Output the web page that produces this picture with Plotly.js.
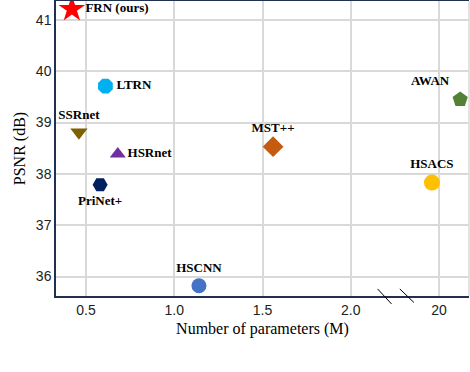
<!DOCTYPE html>
<html>
<head>
<meta charset="utf-8">
<script src="https://cdn.plot.ly/plotly-3.0.1.min.js"></script>
<style>
  html, body { margin: 0; padding: 0; background: #fff; }
  #chart { width: 470px; height: 372px; }
</style>
</head>
<body>
<div id="chart"></div>
<script>
// methods, params (M) and PSNR (dB)
var methods = ['FRN (ours)', 'LTRN', 'SSRnet', 'HSRnet', 'PriNet+', 'HSCNN', 'MST++', 'AWAN', 'HSACS'];
var params = [0.42, 0.61, 0.46, 0.68, 0.58, 1.14, 1.56, 21.2, 19.6];
var psnr = [41.21, 39.71, 38.81, 38.39, 37.79, 35.82, 38.53, 39.45, 37.83];

var colors = ['#ff0000', '#00b0f0', '#7f6000', '#7030a0', '#002060', '#4472c4', '#c55a11', '#548235', '#ffc000'];
var symbols = ['star', 'octagon', 'triangle-down', 'triangle-up', 'hexagon2', 'circle', 'diamond', 'pentagon', 'circle'];
var sizes = [20, 16, 15, 14, 15, 15, 16, 16, 16];
var textpos = ['middle right', 'middle right', 'top center', 'middle right', 'bottom center', 'top center', 'top center', 'top left', 'top center'];

var xTickVals = [0.5, 1.0, 1.5, 2.0, 2.5];
var xTickText = ['0.5', '1.0', '1.5', '2.0', '20'];

// broken axis: values around 20 M are drawn after the break
function brokenX(v) {
  return v > 10 ? 2.5 + (v - 20) * 0.1 : v;
}

var trace = {
  x: params.map(brokenX),
  y: psnr,
  mode: 'markers+text',
  type: 'scatter',
  text: methods.map(function (m) { return '<b>' + m + '</b>'; }),
  textposition: textpos,
  textfont: { family: 'Liberation Serif, serif', size: 13, color: '#000' },
  marker: { color: colors, symbol: symbols, size: sizes, opacity: 1, line: { width: 0 } },
  cliponaxis: false,
  hoverinfo: 'x+y+text'
};

var navy = '#1f3050';
var breakLine = { color: '#000', width: 1 };

var layout = {
  width: 470,
  height: 372,
  margin: { l: 56, r: 1, t: 1, b: 76 },
  paper_bgcolor: '#fff',
  plot_bgcolor: '#fff',
  showlegend: false,
  font: { family: 'Liberation Sans, Arial, sans-serif', size: 14, color: '#222' },
  xaxis: {
    range: [0.33, 2.67],
    tickvals: xTickVals,
    ticktext: xTickText,
    showgrid: true,
    gridcolor: '#d9d9d9',
    gridwidth: 1.5,
    zeroline: false,
    showline: true,
    linecolor: navy,
    linewidth: 1.5,
    mirror: true,
    ticks: '',
    title: { text: 'Number of parameters (M)', font: { family: 'Liberation Serif, serif', size: 16, color: '#000' }, standoff: 6 }
  },
  yaxis: {
    range: [35.62, 41.37],
    tickvals: [36, 37, 38, 39, 40, 41],
    showgrid: true,
    gridcolor: '#d9d9d9',
    gridwidth: 1.5,
    zeroline: false,
    showline: true,
    linecolor: navy,
    linewidth: 1.5,
    ticks: '',
    title: { text: 'PSNR (dB)', font: { family: 'Liberation Serif, serif', size: 16, color: '#000' }, standoff: 6 }
  },
  shapes: [
    { type: 'line', xref: 'paper', yref: 'paper', x0: 1, x1: 1, y0: 0, y1: 1, line: { color: '#d9d9d9', width: 1.5 } },
    { type: 'line', xref: 'x', yref: 'paper', x0: 2.152, x1: 2.231, y0: 0.024, y1: -0.027, line: breakLine },
    { type: 'line', xref: 'x', yref: 'paper', x0: 2.278, x1: 2.358, y0: 0.024, y1: -0.022, line: breakLine }
  ]
};

Plotly.newPlot('chart', [trace], layout, { displayModeBar: false, responsive: false });
</script>
</body>
</html>
